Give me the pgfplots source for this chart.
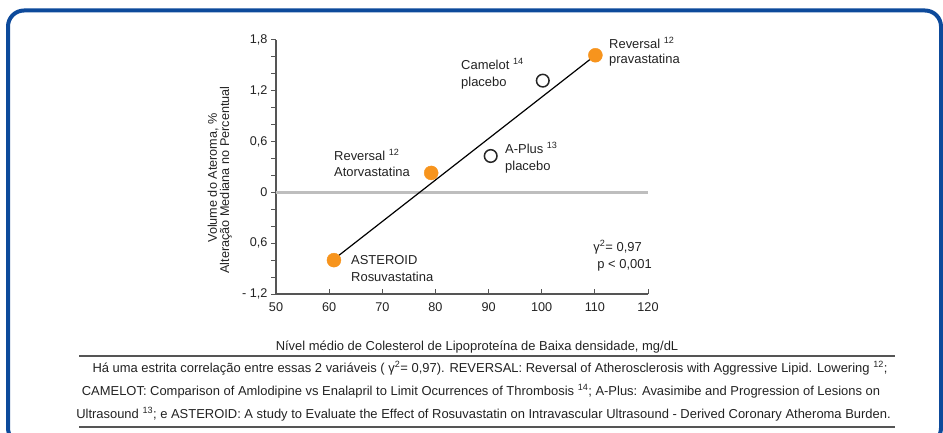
\documentclass[border=0pt]{standalone}
\usepackage{pgfplots}
\pgfplotsset{compat=1.18}
\usepackage{fontspec}
\setmainfont{Liberation Sans}
\definecolor{frameblue}{HTML}{0D4A9B}
\definecolor{dotorange}{HTML}{F7941D}
\definecolor{axgray}{HTML}{555555}
\definecolor{zerogray}{HTML}{BEBEBE}
\definecolor{txt}{HTML}{222222}
\newcommand{\lab}{\fontsize{13}{15}\selectfont}
\newcommand{\capf}{\fontsize{13}{15}\selectfont}
\newcommand{\axf}{\fontsize{12.7}{14}\selectfont}

\begin{document}
\begin{tikzpicture}[x=1bp,y=1bp]
\useasboundingbox (0,0) rectangle (943,432);
\draw[frameblue, line width=4bp, rounded corners=16bp] (8,421.5) rectangle (941,-12);

\begin{axis}[
    name=ax,
    at={(276bp,138bp)}, anchor=south west,
    scale only axis, width=372bp, height=254bp,
    xmin=50, xmax=120, ymin=-1.2, ymax=1.8,
    axis x line=bottom, axis y line=left,
    axis line style={-, axgray, line width=1.1bp},
    xtick={50,60,...,120},
    ytick={-1.2,-0.6,0,0.6,1.2,1.8},
    yticklabels={{- 1,2},{0,6},{0},{0,6},{1,2},{1,8}},
    minor ytick={-1,-0.8,-0.4,-0.2,0.2,0.4,0.8,1,1.4,1.6},
    xtick align=inside, ytick align=outside,
    major tick length=5bp, minor tick length=5bp,
    tick style={axgray, line width=1bp},
    x tick label style={font=\axf, text=txt, yshift=-5bp},
    y tick label style={font=\axf, text=txt},
    /pgf/number format/assume math mode=true,
    clip=false,
]
% linha do zero
\addplot[zerogray, line width=3.5bp, mark=none] coordinates {(50,0) (120,0)};
% reta de regressao
\addplot[black, line width=1.2bp, mark=none] coordinates {(61.5,-0.76) (110.1,1.62)};
% estatinas
\addplot[dotorange, only marks, mark=*, mark size=7bp, mark options={draw=none, fill=dotorange}]
  coordinates {(60.9,-0.80) (79.2,0.23) (110.1,1.62)};
% placebo
\addplot[black!85, only marks, mark=o, mark size=6.3bp, mark options={draw=black!85, line width=1.5bp, fill=white}]
  coordinates {(90.4,0.43) (100.2,1.32)};
\end{axis}

% rotulos dos pontos
\begin{scope}[every node/.style={anchor=base west, inner sep=0pt, text=txt, font=\lab}]
\node at (334,272) {Reversal \textsuperscript{12}};
\node at (334,256) {Atorvastatina};
\node at (351,168) {ASTEROID};
\node at (351,151) {Rosuvastatina};
\node at (505,279) {A-Plus \textsuperscript{13}};
\node at (505,262) {placebo};
\node at (461,363) {Camelot \textsuperscript{14}};
\node at (461,346) {placebo};
\node at (609,384) {Reversal \textsuperscript{12}};
\node at (609,369) {pravastatina};
\end{scope}
\node[anchor=base east, inner sep=0pt, text=txt, font=\lab] at (642,181) {γ\textsuperscript{2}= 0,97};
\node[anchor=base east, inner sep=0pt, text=txt, font=\lab] at (652,164) {p < 0,001};

% titulos dos eixos
\node[rotate=90, text=txt, font=\axf, inner sep=0pt] at (213,254) {Volume do Ateroma, \%};
\node[rotate=90, text=txt, font=\axf, inner sep=0pt] at (226,252) {Alteração Mediana no Percentual};
\node[anchor=base, inner sep=0pt, text=txt, font=\lab] at (477,82) {Nível médio de Colesterol de Lipoproteína de Baixa densidade, mg/dL};

% legenda
\draw[axgray, line width=1.2bp] (79,76) -- (895,76);
\draw[axgray, line width=1.2bp] (79,5) -- (895,5);
\begin{scope}[every node/.style={anchor=base, inner sep=0pt, text=txt, font=\capf}]
\node at (490,60) {Há uma estrita correlação entre essas 2 variáveis ( γ\textsuperscript{2}= 0,97). REVERSAL: Reversal of Atherosclerosis with Aggressive Lipid. Lowering \textsuperscript{12};};
\node at (481,37) {CAMELOT: Comparison of Amlodipine vs Enalapril to Limit Ocurrences of Thrombosis \textsuperscript{14}; A-Plus: Avasimibe and Progression of Lesions on};
\node at (483.5,14) {Ultrasound \textsuperscript{13}; e ASTEROID: A study to Evaluate the Effect of Rosuvastatin on Intravascular Ultrasound - Derived Coronary Atheroma Burden.};
\end{scope}
\end{tikzpicture}
\end{document}
